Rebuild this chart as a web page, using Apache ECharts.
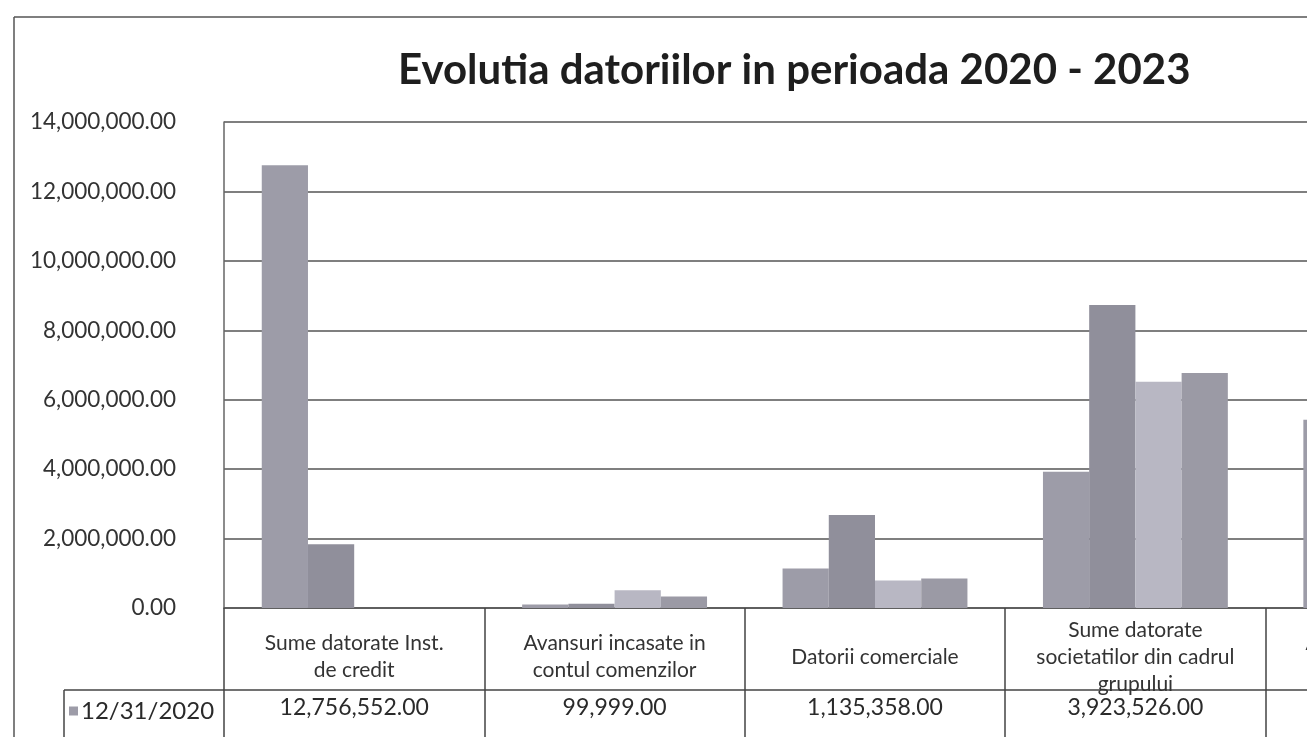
<!DOCTYPE html>
<html>
<head>
<meta charset="utf-8">
<script src="https://cdn.jsdelivr.net/npm/echarts@6/dist/echarts.min.js"></script>
<style>
html,body{margin:0;padding:0;overflow:hidden;background:#fff;width:1307px;height:737px;}
#c{width:1540px;height:737px;}
</style>
</head>
<body>
<div id="c"></div>
<script>
var titleText = 'Evolutia datoriilor in perioada 2020 - 2023';
var categories = [
  'Sume datorate Inst.\nde credit',
  'Avansuri incasate in\ncontul comenzilor',
  'Datorii comerciale',
  'Sume datorate\nsocietatilor din cadrul\ngrupului',
  'Alte datorii, inclusiv\ndatoriile fiscale'
];
var seriesNames = ['12/31/2020', '12/31/2021', '12/31/2022', '12/31/2023'];
var v2020 = [12756552, 99999, 1135358, 3923526, 5420000];
var v2021 = [1840000, 120000, 2680000, 8730000, null];
var v2022 = [0, 510000, 790000, 6520000, null];
var v2023 = [0, 330000, 850000, 6770000, null];
var yTicks = [0, 2000000, 4000000, 6000000, 8000000, 10000000, 12000000, 14000000];

var seriesValues = [v2020, v2021, v2022, v2023];
var colors = ['#9d9ca8', '#908f9b', '#b8b7c3', '#9b9aa5'];
var FONT = 'Lato, "Open Sans", sans-serif';

function fmt(v) {
  return Number(v).toLocaleString('en-US', {minimumFractionDigits: 2, maximumFractionDigits: 2});
}

var chart = echarts.init(document.getElementById('c'), null, {renderer: 'canvas'});
var series = seriesValues.map(function (vals, i) {
  return {
    name: seriesNames[i],
    type: 'bar',
    data: vals,
    xAxisIndex: 0,
    yAxisIndex: 0,
    barGap: '0%',
    barCategoryGap: '29%',
    itemStyle: {color: colors[i]},
    animation: false
  };
});

chart.setOption({
  animation: false,
  backgroundColor: '#fff',
  title: {
    text: titleText,
    left: 393,
    top: 44,
    textStyle: {fontFamily: FONT, fontWeight: 'bold', fontSize: 42, color: '#1e1e1e'}
  },
  legend: {
    data: [seriesNames[0]],
    left: 64,
    top: 694,
    icon: 'rect',
    itemWidth: 9,
    itemHeight: 9,
    itemGap: 6,
    selectedMode: false,
    textStyle: {fontFamily: FONT, fontSize: 24, color: '#2a2a2a', padding: [0, 0, 0, -2]}
  },
  grid: {left: 224, top: 122, width: 1302, height: 486, containLabel: false},
  xAxis: [
    {
      type: 'category',
      data: categories,
      position: 'bottom',
      axisLine: {show: true, lineStyle: {color: '#555', width: 1.5}},
      axisTick: {show: true, length: 129, lineStyle: {color: '#444', width: 1.5}},
      axisLabel: {
        interval: 0,
        margin: 49,
        verticalAlign: 'middle',
        lineHeight: 27,
        fontFamily: FONT,
        fontSize: 21,
        color: '#333'
      },
      splitLine: {show: false}
    },
    {
      type: 'category',
      data: categories,
      position: 'bottom',
      offset: 82,
      axisLine: {show: true, lineStyle: {color: '#444', width: 1.5}},
      axisTick: {show: false},
      axisLabel: {
        interval: 0,
        margin: 18,
        verticalAlign: 'middle',
        fontFamily: FONT,
        fontSize: 23,
        color: '#2a2a2a',
        formatter: function (val, idx) { return fmt(v2020[idx]); }
      },
      splitLine: {show: false}
    }
  ],
  yAxis: {
    type: 'value',
    min: yTicks[0],
    max: yTicks[yTicks.length - 1],
    interval: yTicks[1] - yTicks[0],
    axisLine: {show: true, lineStyle: {color: '#666', width: 1.5}},
    axisTick: {show: false},
    splitLine: {show: true, lineStyle: {color: '#555', width: 1.5}},
    axisLabel: {
      margin: 48,
      fontFamily: FONT,
      fontSize: 22.5,
      color: '#333',
      formatter: function (v) { return fmt(v); }
    }
  },
  series: series,
  graphic: [
    {type: 'line', shape: {x1: 14, y1: 17, x2: 1540, y2: 17}, style: {stroke: '#555', lineWidth: 1.5}},
    {type: 'line', shape: {x1: 14, y1: 17, x2: 14, y2: 737}, style: {stroke: '#555', lineWidth: 1.5}},
    {type: 'line', shape: {x1: 64, y1: 690, x2: 224, y2: 690}, style: {stroke: '#444', lineWidth: 1.5}},
    {type: 'line', shape: {x1: 64, y1: 690, x2: 64, y2: 737}, style: {stroke: '#444', lineWidth: 1.5}}
  ]
});
</script>
</body>
</html>
